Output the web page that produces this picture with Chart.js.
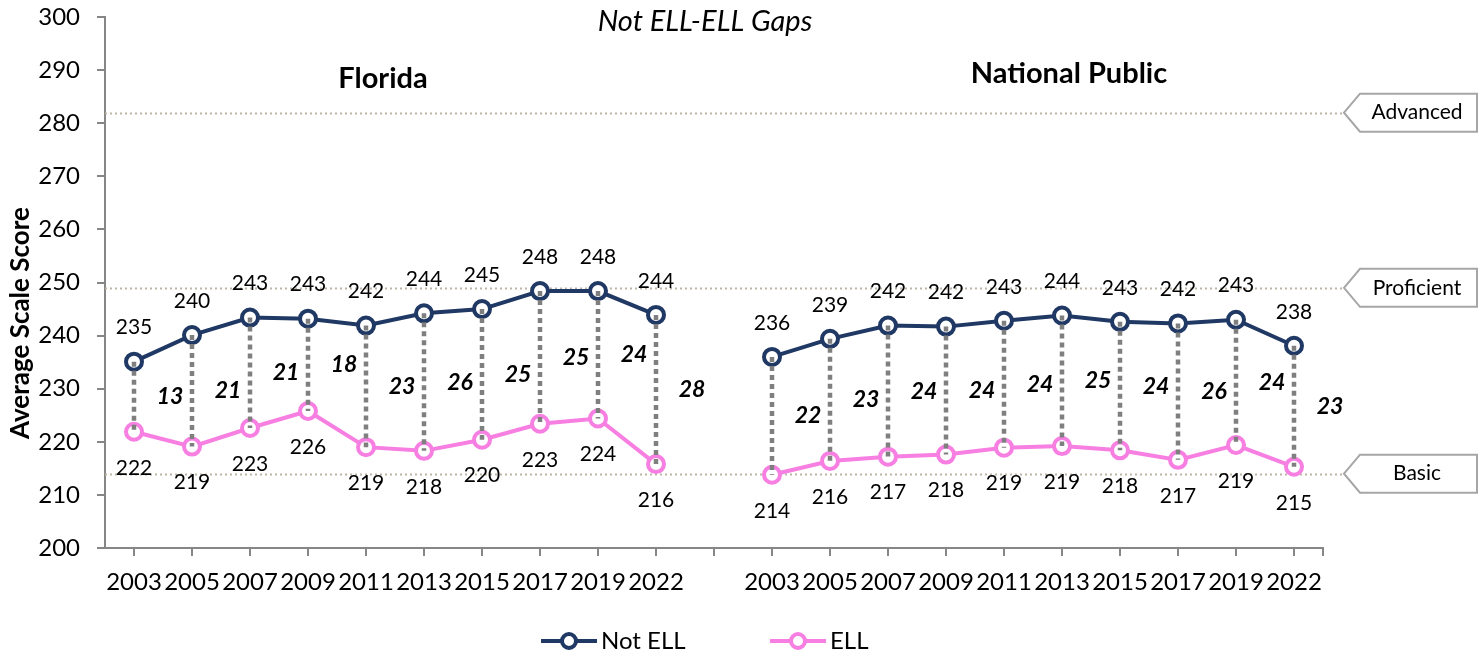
<!DOCTYPE html>
<html>
<head>
<meta charset="utf-8">
<title>Not ELL-ELL Gaps</title>
<script src="https://cdn.jsdelivr.net/npm/chart.js@4.4.1/dist/chart.umd.min.js"></script>
<style>
  body { margin: 0; background: #fff; }
  #chart { display: block; }
</style>
</head>
<body>
<canvas id="chart" width="1483" height="655"></canvas>
<script>
// values
var years = ['2003', '2005', '2007', '2009', '2011', '2013', '2015', '2017', '2019', '2022'];
var flNotEll = [235.1, 240.1, 243.4, 243.2, 241.9, 244.2, 245.0, 248.4, 248.4, 243.9];
var flEll = [221.9, 219.1, 222.6, 225.8, 219.0, 218.3, 220.4, 223.4, 224.4, 215.8];
var npNotEll = [236.0, 239.4, 241.9, 241.7, 242.8, 243.8, 242.6, 242.3, 243.0, 238.1];
var npEll = [213.8, 216.4, 217.2, 217.6, 218.9, 219.2, 218.4, 216.6, 219.4, 215.3];
var flGap = [13, 21, 21, 18, 23, 26, 25, 25, 24, 28];
var npGap = [22, 23, 24, 24, 24, 25, 24, 26, 24, 23];
var cutScores = [282, 249, 214];
var cutNames = ['Advanced', 'Proficient', 'Basic'];
var groupNames = ['Florida', 'National Public'];

var FONT = 'Lato, "Open Sans", sans-serif';
var NAVY = '#203864';
var PINK = '#F77FE2';
var AXIS = '#868686';

// one category axis, blank slot between the two groups
var labels = years.concat([''], years);
var notEll = flNotEll.concat([null], npNotEll);
var ell = flEll.concat([null], npEll);
var gaps = flGap.concat([null], npGap);

function font(size, style) {
  return (style || '') + ' ' + size + 'px ' + FONT;
}

var extras = {
  id: 'extras',
  beforeDatasetsDraw: function(chart) {
    var ctx = chart.ctx, y = chart.scales.y, a = chart.chartArea;
    ctx.save();
    ctx.strokeStyle = '#BDB5A6';
    ctx.lineWidth = 2;
    ctx.setLineDash([2, 3]);
    cutScores.forEach(function(v) {
      var py = Math.round(y.getPixelForValue(v)) + 0.5;
      ctx.beginPath();
      ctx.moveTo(a.left, py);
      ctx.lineTo(1343, py);
      ctx.stroke();
    });
    ctx.restore();
  },
  afterDatasetsDraw: function(chart) {
    var ctx = chart.ctx;
    var top = chart.getDatasetMeta(0).data;
    var bot = chart.getDatasetMeta(1).data;
    ctx.save();
    // gap connectors
    ctx.strokeStyle = '#7F7F7F';
    ctx.lineWidth = 4.5;
    ctx.setLineDash([5, 4]);
    for (var i = 0; i < labels.length; i++) {
      if (notEll[i] == null) continue;
      ctx.beginPath();
      ctx.moveTo(top[i].x, top[i].y);
      ctx.lineTo(bot[i].x, bot[i].y);
      ctx.stroke();
    }
    ctx.setLineDash([]);
    ctx.fillStyle = '#000';
    ctx.textAlign = 'center';
    ctx.textBaseline = 'middle';
    for (var j = 0; j < labels.length; j++) {
      if (notEll[j] == null) continue;
      ctx.font = font(21);
      ctx.fillText(Math.round(notEll[j]), top[j].x, top[j].y - 34);
      ctx.fillText(Math.round(ell[j]), bot[j].x, bot[j].y + 36);
      ctx.font = font(23, 'italic bold');
      ctx.fillText(gaps[j], top[j].x + 36, (top[j].y + bot[j].y) / 2);
    }
    ctx.restore();
  },
  afterDraw: function(chart) {
    var ctx = chart.ctx, y = chart.scales.y, a = chart.chartArea;
    ctx.save();
    ctx.fillStyle = '#000';
    ctx.textAlign = 'center';
    ctx.textBaseline = 'middle';

    ctx.font = font(29, 'italic');
    ctx.fillText('Not ELL-ELL Gaps', 705, 22);
    ctx.font = font(29, 'bold');
    ctx.fillText(groupNames[0], 383, 79);
    ctx.fillText(groupNames[1], 1069, 74);

    // y title
    ctx.save();
    ctx.translate(21, 323);
    ctx.rotate(-Math.PI / 2);
    ctx.font = font(26, 'bold');
    ctx.fillText('Average Scale Score', 0, 0);
    ctx.restore();

    // closing tick at the axis end
    ctx.strokeStyle = AXIS;
    ctx.lineWidth = 2;
    ctx.beginPath();
    ctx.moveTo(a.right, a.bottom);
    ctx.lineTo(a.right, a.bottom + 8);
    ctx.stroke();

    // callouts for the cut scores
    ctx.strokeStyle = '#A6A6A6';
    ctx.lineWidth = 2;
    cutScores.forEach(function(v, k) {
      var py = y.getPixelForValue(v);
      ctx.fillStyle = '#fff';
      ctx.beginPath();
      ctx.moveTo(1344, py);
      ctx.lineTo(1360, py - 19);
      ctx.lineTo(1477, py - 19);
      ctx.lineTo(1477, py + 19);
      ctx.lineTo(1360, py + 19);
      ctx.closePath();
      ctx.fill();
      ctx.stroke();
      ctx.fillStyle = '#000';
      ctx.font = font(21);
      ctx.fillText(cutNames[k], 1417, py);
    });

    // legend
    var items = [
      { x: 541, text: 'Not ELL', color: NAVY },
      { x: 770, text: 'ELL', color: PINK }
    ];
    items.forEach(function(it) {
      var ly = 641;
      ctx.strokeStyle = it.color;
      ctx.lineWidth = 4;
      ctx.beginPath();
      ctx.moveTo(it.x, ly);
      ctx.lineTo(it.x + 56, ly);
      ctx.stroke();
      ctx.beginPath();
      ctx.arc(it.x + 28, ly, 7, 0, Math.PI * 2);
      ctx.fillStyle = '#fff';
      ctx.fill();
      ctx.stroke();
      ctx.fillStyle = '#000';
      ctx.textAlign = 'left';
      ctx.font = font(24);
      ctx.fillText(it.text, it.x + 60, ly);
    });
    ctx.restore();
  }
};

var ctx = document.getElementById('chart');
var chart = new Chart(ctx, {
  type: 'line',
  data: {
    labels: labels,
    datasets: [
      {
        label: 'Not ELL',
        data: notEll,
        borderColor: NAVY,
        borderWidth: 4,
        pointRadius: 8,
        pointBorderWidth: 4,
        pointBackgroundColor: '#fff',
        pointBorderColor: NAVY,
        spanGaps: false,
        tension: 0
      },
      {
        label: 'ELL',
        data: ell,
        borderColor: PINK,
        borderWidth: 4,
        pointRadius: 8,
        pointBorderWidth: 4,
        pointBackgroundColor: '#fff',
        pointBorderColor: PINK,
        spanGaps: false,
        tension: 0
      }
    ]
  },
  options: {
    responsive: false,
    animation: false,
    devicePixelRatio: 1,
    layout: { padding: { left: 0, right: 160, top: 17, bottom: 0 } },
    plugins: {
      legend: { display: false },
      tooltip: { enabled: false }
    },
    scales: {
      x: {
        type: 'category',
        offset: true,
        grid: { display: true, drawOnChartArea: false, offset: false, tickLength: 8, color: AXIS, lineWidth: 2 },
        border: { color: AXIS, width: 2 },
        ticks: { color: '#000', font: { family: FONT, size: 24 }, padding: 12, maxRotation: 0, autoSkip: false },
        afterFit: function(s) { s.height = 107; }
      },
      y: {
        min: 200,
        max: 300,
        grid: { display: true, drawOnChartArea: false, tickLength: 8, color: AXIS, lineWidth: 2 },
        border: { color: AXIS, width: 2 },
        // tiny lineHeight keeps the label half-height out of the top padding
        ticks: { stepSize: 10, color: '#000', font: { family: FONT, size: 24, lineHeight: 0.01 }, padding: 17 },
        afterFit: function(s) { s.width = 105; }
      }
    }
  },
  plugins: [extras]
});
</script>
</body>
</html>
